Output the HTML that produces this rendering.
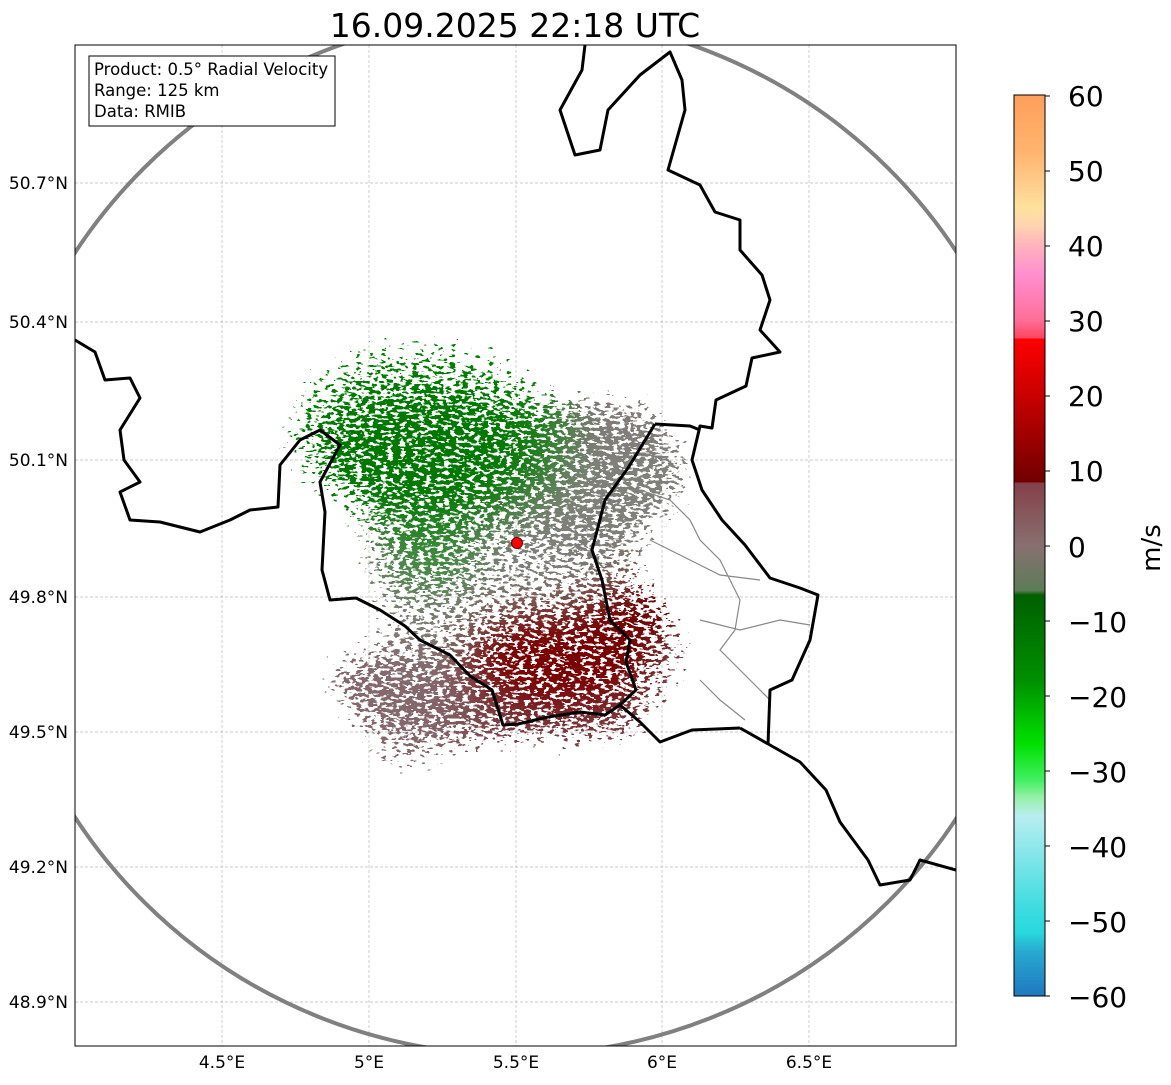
<!DOCTYPE html>
<html><head><meta charset="utf-8"><style>
body{margin:0;background:#fff;width:1171px;height:1081px;overflow:hidden;font-family:"DejaVu Sans","Liberation Sans",sans-serif}
</style></head><body>
<svg width="1171" height="1081" xmlns="http://www.w3.org/2000/svg" font-family="DejaVu Sans, Liberation Sans, sans-serif">
<defs>
<clipPath id="ax"><rect x="75" y="45" width="881" height="1001"/></clipPath>
<filter id="rd" filterUnits="userSpaceOnUse" primitiveUnits="userSpaceOnUse" x="0" y="0" width="1171" height="1081" color-interpolation-filters="sRGB">
<feGaussianBlur in="SourceGraphic" stdDeviation="22" result="b"/>
<feColorMatrix in="b" type="matrix" values="1 0 0 0 0 0 1 0 0 0 0 0 1 0 0 0 0 0 30 0" result="bo"/>
<feTurbulence type="fractalNoise" baseFrequency="0.16 0.32" numOctaves="2" seed="3" result="n"/>
<feColorMatrix in="n" type="matrix" values="0 0 0 0 0 0 0 0 0 0 0 0 0 0 0 1.4 0 0 0 -0.2" result="na"/>
<feColorMatrix in="b" type="matrix" values="0 0 0 0 0 0 0 0 0 0 0 0 0 0 0 0 0 0 1 0" result="ba"/>
<feComposite in="ba" in2="na" operator="arithmetic" k1="0" k2="1" k3="1" k4="-0.9" result="s"/>
<feComponentTransfer in="s" result="m"><feFuncA type="discrete" tableValues="0 1"/></feComponentTransfer>
<feComposite in="bo" in2="m" operator="in"/>
</filter>
<linearGradient id="cb" x1="0" y1="0" x2="0" y2="1">
<stop offset="0" stop-color="#ff9f5c"/><stop offset=".0625" stop-color="#ffb46e"/>
<stop offset=".104" stop-color="#ffd090"/><stop offset=".125" stop-color="#ffe29c"/>
<stop offset=".145" stop-color="#ffd4b0"/><stop offset=".166" stop-color="#ffb4bc"/>
<stop offset=".2" stop-color="#ff8ed0"/><stop offset=".25" stop-color="#ff6e98"/>
<stop offset=".27" stop-color="#ff4460"/><stop offset=".27" stop-color="#ff0000"/>
<stop offset=".33" stop-color="#cc0000"/><stop offset=".43" stop-color="#700000"/>
<stop offset=".43" stop-color="#844048"/><stop offset=".5" stop-color="#887070"/>
<stop offset=".55" stop-color="#5c7c58"/><stop offset=".555" stop-color="#006000"/>
<stop offset=".65" stop-color="#009000"/><stop offset=".72" stop-color="#00e000"/>
<stop offset=".76" stop-color="#40f060"/><stop offset=".78" stop-color="#98f0a8"/>
<stop offset=".8" stop-color="#b8eef0"/><stop offset=".9" stop-color="#40dce0"/>
<stop offset=".93" stop-color="#28d8dc"/><stop offset=".95" stop-color="#28aad0"/>
<stop offset="1" stop-color="#1f78c0"/>
</linearGradient>
</defs>
<text x="515" y="37" font-size="33" text-anchor="middle">16.09.2025 22:18 UTC</text>
<g stroke="#bbb" stroke-width="0.7" stroke-dasharray="3,2">
<line x1="222" y1="45" x2="222" y2="1046"/><line x1="369" y1="45" x2="369" y2="1046"/><line x1="516" y1="45" x2="516" y2="1046"/><line x1="662" y1="45" x2="662" y2="1046"/><line x1="809" y1="45" x2="809" y2="1046"/>
<line x1="75" y1="183" x2="956" y2="183"/><line x1="75" y1="322" x2="956" y2="322"/><line x1="75" y1="460" x2="956" y2="460"/><line x1="75" y1="597" x2="956" y2="597"/><line x1="75" y1="732" x2="956" y2="732"/><line x1="75" y1="867" x2="956" y2="867"/><line x1="75" y1="1002" x2="956" y2="1002"/>
</g>
<g filter="url(#rd)">
<ellipse cx="500" cy="560" rx="150" ry="120" fill="#7e7e78" opacity="0.8"/>
<ellipse cx="585" cy="470" rx="115" ry="80" fill="#80807a"/>
<ellipse cx="610" cy="410" rx="55" ry="22" fill="#847878"/>
<ellipse cx="410" cy="700" rx="100" ry="50" fill="#84686c" transform="rotate(18 410 700)"/>
<ellipse cx="400" cy="770" rx="50" ry="14" fill="#84686c" transform="rotate(25 400 770)"/>
<ellipse cx="470" cy="820" rx="20" ry="8" fill="#84686c"/>
<ellipse cx="560" cy="722" rx="115" ry="30" fill="#7a4448"/>
<ellipse cx="665" cy="660" rx="40" ry="40" fill="#7a5458" opacity="0.8"/>
<ellipse cx="560" cy="660" rx="95" ry="50" fill="#7a0000"/>
<ellipse cx="635" cy="612" rx="50" ry="30" fill="#700000"/>
<ellipse cx="420" cy="430" rx="150" ry="105" fill="#008000" opacity="0.75"/>
<ellipse cx="420" cy="445" rx="105" ry="65" fill="#007800"/>
<ellipse cx="430" cy="560" rx="50" ry="28" fill="#3c8c3c"/>
</g>
<g clip-path="url(#ax)">
<ellipse cx="516" cy="535" rx="525" ry="520" fill="none" stroke="#808080" stroke-width="4"/>
<g fill="none" stroke="#888" stroke-width="1.2">
<path d="M640 490 L670 500 L690 520 L700 540 L720 560 L730 580 L740 600 L735 630 L720 650 L740 670 L760 690 L770 700"/>
<path d="M650 540 L690 560 L720 575 L760 580"/>
<path d="M700 620 L740 630 L780 620 L810 625"/>
<path d="M700 680 L720 700 L745 720"/>
</g>
<g fill="none" stroke="#000" stroke-width="3" stroke-linejoin="round">
<path d="M585 45 L582 70 L560 110 L575 155 L600 150 L608 110 L640 75 L670 52 L682 80 L685 110 L668 170 L700 185 L715 212 L740 220 L740 250 L762 275 L770 300 L760 330 L780 352 L752 358 L746 386 L716 400 L712 428 L700 426 L692 460 L702 490 L722 520 L745 545 L770 578 L800 588 L818 595 L810 640 L792 680 L770 690 L768 745"/>
<path d="M740 728 L770 745 L800 762 L826 790 L840 822 L868 860 L880 885 L910 880 L920 860 L956 870"/>
<path d="M75 340 L95 352 L105 380 L130 378 L140 398 L120 430 L124 460 L140 482 L120 492 L130 520 L160 522 L200 532 L230 520 L250 510 L278 507 L280 465 L300 440 L320 430 L340 445 L320 482 L325 512 L322 570 L330 600 L356 598 L380 610 L405 626 L420 640 L450 655 L470 676 L492 690 L503 725 L518 724 L548 717 L580 712 L605 715 L620 705 L640 722 L660 742 L692 730 L740 728"/>
<path d="M655 424 L690 426 L700 430"/>
<path d="M655 424 L628 468 L605 500 L592 550 L602 580 L610 620 L630 640 L626 662 L636 690 L620 705"/>
</g>
</g>
<circle cx="517" cy="543" r="5.5" fill="#f00" stroke="#600" stroke-width="1"/>
<rect x="75" y="45" width="881" height="1001" fill="none" stroke="#000" stroke-width="1"/>
<rect x="89" y="56" width="246" height="70" fill="#fff" stroke="#000" stroke-width="1"/>
<g font-size="16.5"><text x="94" y="75">Product: 0.5° Radial Velocity</text><text x="94" y="96">Range: 125 km</text><text x="94" y="117">Data: RMIB</text></g>
<g font-size="17" text-anchor="end">
<text x="68" y="189">50.7°N</text><text x="68" y="328">50.4°N</text><text x="68" y="466">50.1°N</text><text x="68" y="603">49.8°N</text><text x="68" y="738">49.5°N</text><text x="68" y="873">49.2°N</text><text x="68" y="1008">48.9°N</text>
</g>
<g font-size="17" text-anchor="middle">
<text x="222" y="1068">4.5°E</text><text x="369" y="1068">5°E</text><text x="516" y="1068">5.5°E</text><text x="662" y="1068">6°E</text><text x="809" y="1068">6.5°E</text>
</g>
<rect x="1014" y="95" width="31" height="901" fill="url(#cb)" stroke="#000" stroke-width="1"/>
<g font-size="28">
<text x="1068" y="106">60</text><text x="1068" y="181">50</text><text x="1068" y="256">40</text><text x="1068" y="331">30</text><text x="1068" y="406">20</text><text x="1068" y="481">10</text><text x="1068" y="557">0</text>
<text x="1068" y="632">−10</text><text x="1068" y="707">−20</text><text x="1068" y="782">−30</text><text x="1068" y="857">−40</text><text x="1068" y="932">−50</text><text x="1068" y="1007">−60</text>
</g>
<g stroke="#000" stroke-width="1">
<line x1="1045" y1="96" x2="1050" y2="96"/><line x1="1045" y1="171" x2="1050" y2="171"/><line x1="1045" y1="246" x2="1050" y2="246"/><line x1="1045" y1="321" x2="1050" y2="321"/><line x1="1045" y1="396" x2="1050" y2="396"/><line x1="1045" y1="471" x2="1050" y2="471"/><line x1="1045" y1="546" x2="1050" y2="546"/><line x1="1045" y1="621" x2="1050" y2="621"/><line x1="1045" y1="696" x2="1050" y2="696"/><line x1="1045" y1="771" x2="1050" y2="771"/><line x1="1045" y1="846" x2="1050" y2="846"/><line x1="1045" y1="921" x2="1050" y2="921"/><line x1="1045" y1="996" x2="1050" y2="996"/>
</g>
<text x="1160" y="548" font-size="26" text-anchor="middle" transform="rotate(-90 1160 548)">m/s</text>
</svg>
</body></html>
